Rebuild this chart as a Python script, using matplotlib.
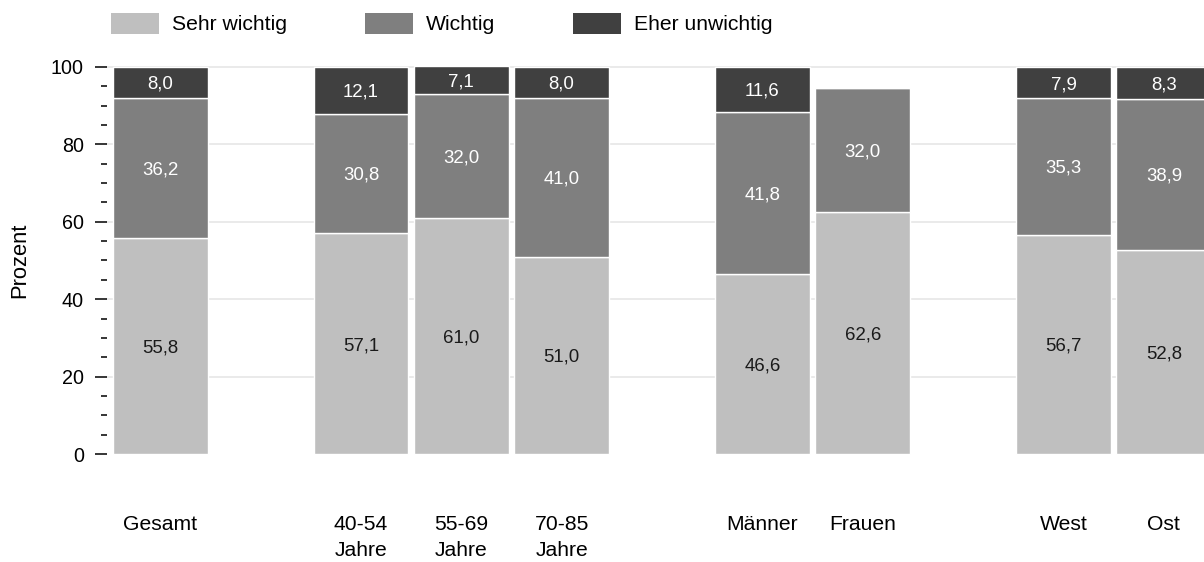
import numpy as np
import matplotlib
matplotlib.use("Agg")
import matplotlib.pyplot as plt
from matplotlib.patches import Rectangle
from matplotlib.ticker import MultipleLocator

plt.rcParams["font.family"] = ["Liberation Sans", "DejaVu Sans"]

# data
groups = ["Gesamt", "40-54\nJahre", "55-69\nJahre", "70-85\nJahre",
          "Männer", "Frauen", "West", "Ost"]
positions = [0, 2, 3, 4, 6, 7, 9, 10]
sehr_wichtig = [55.8, 57.1, 61.0, 51.0, 46.6, 62.6, 56.7, 52.8]
wichtig = [36.2, 30.8, 32.0, 41.0, 41.8, 32.0, 35.3, 38.9]
eher_unwichtig = [8.0, 12.1, 7.1, 8.0, 11.6, np.nan, 7.9, 8.3]

series = [
    ("Sehr wichtig", sehr_wichtig, "#bfbfbf", "#1a1a1a"),
    ("Wichtig", wichtig, "#7f7f7f", "white"),
    ("Eher unwichtig", eher_unwichtig, "#404040", "white"),
]

fig = plt.figure(figsize=(12.04, 5.62), dpi=100)
ax = fig.add_axes([0.0889, 0.192, 0.9111, 0.689])

bottom = np.zeros(len(groups))
for name, vals, color, tcolor in series:
    vals = np.array(vals, dtype=float)
    h = np.nan_to_num(vals)
    ax.bar(positions, h, 0.945, bottom=bottom, color=color,
           edgecolor="white", linewidth=1, zorder=3, clip_on=False)
    for x, b, v in zip(positions, bottom, vals):
        if np.isnan(v):
            continue
        ax.text(x, b + v / 2, f"{v:.1f}".replace(".", ","), ha="center",
                va="center_baseline", fontsize=13.4, color=tcolor, zorder=4)
    bottom += h

ax.set_xlim(-0.53, 10.4)
ax.set_ylim(0, 100)
ax.set_xticks(positions)
ax.set_xticklabels(groups, fontsize=15.2, linespacing=1.45, va="top")
ax.tick_params(axis="x", length=0, pad=44)

ax.yaxis.set_major_locator(MultipleLocator(20))
ax.yaxis.set_minor_locator(MultipleLocator(5))
ax.tick_params(axis="y", which="major", length=8.6, width=1.1, labelsize=14.2, pad=8)
ax.tick_params(axis="y", which="minor", length=4.3, width=1.1)
ax.set_ylabel("Prozent", fontsize=15.8, labelpad=15)

for y in [20, 40, 60, 80, 100]:
    ax.axhline(y, color="#e6e6e6", linewidth=1.2, zorder=1, clip_on=False)

for s in ax.spines.values():
    s.set_visible(False)

# legend
leg_x = [0.0922, 0.3032, 0.4760]
for (name, vals, color, tcolor), lx in zip(series, leg_x):
    fig.patches.append(Rectangle((lx, 0.940), 0.0400, 0.0365, transform=fig.transFigure,
                                 facecolor=color, edgecolor="none"))
    fig.text(lx + 0.0505, 0.957, name, fontsize=15.2, va="center", ha="left")

fig.savefig("out.png", dpi=100)
